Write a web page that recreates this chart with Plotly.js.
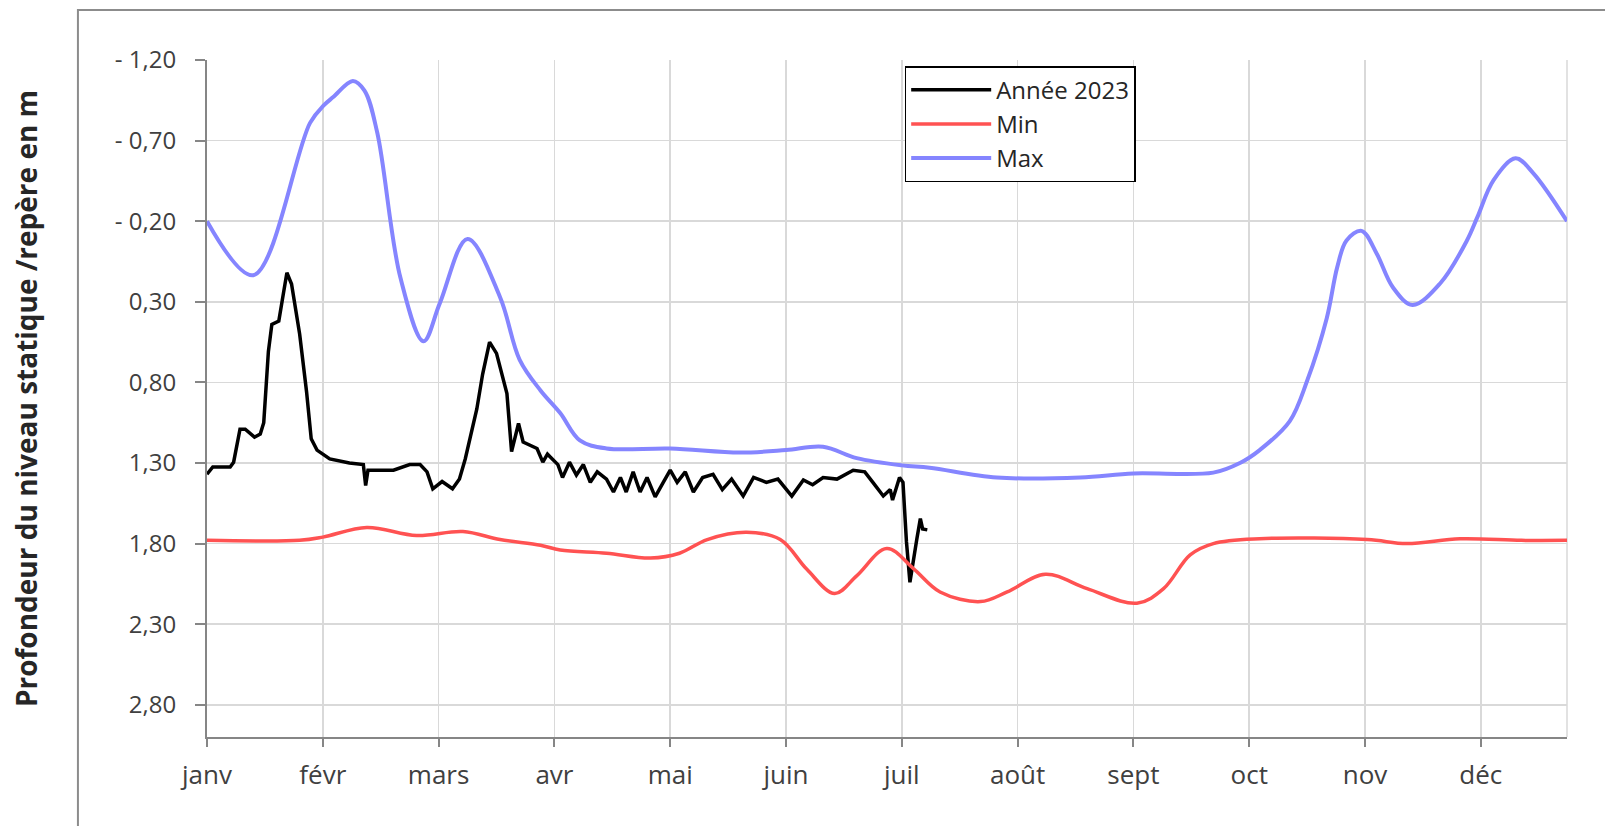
<!DOCTYPE html>
<html>
<head>
<meta charset="utf-8">
<script src="https://cdn.plot.ly/plotly-3.0.1.min.js"></script>
<style>html,body{margin:0;padding:0;background:#fff;}#chart{width:1605px;height:826px;}</style>
</head>
<body>
<div id="chart"></div>
<script>
// x positions are expressed in months from 1 January (0 = janv, 1 = févr, ...)
const monthLabels = ["janv","févr","mars","avr","mai","juin","juil","août","sept","oct","nov","déc"];
const yTickVals = [-1.2,-0.7,-0.2,0.3,0.8,1.3,1.8,2.3,2.8];
const yTickText = ["- 1,20","- 0,70","- 0,20","0,30","0,80","1,30","1,80","2,30","2,80"];

const annee2023X = [0.00,0.05,0.20,0.23,0.285,0.33,0.41,0.46,0.49,0.53,0.56,0.62,0.65,0.69,0.73,0.80,0.86,0.90,0.95,1.06,1.23,1.35,1.37,1.39,1.61,1.75,1.84,1.90,1.95,2.03,2.12,2.18,2.23,2.33,2.38,2.44,2.50,2.59,2.63,2.69,2.73,2.85,2.90,2.94,2.96,3.03,3.07,3.13,3.19,3.25,3.31,3.37,3.45,3.51,3.57,3.62,3.68,3.74,3.80,3.87,3.94,4.00,4.06,4.13,4.20,4.28,4.37,4.45,4.53,4.63,4.72,4.83,4.93,5.05,5.15,5.23,5.32,5.44,5.58,5.68,5.75,5.84,5.90,5.92,5.98,6.01,6.04,6.07,6.13,6.16,6.18,6.22];
const annee2023Y = [1.37,1.325,1.325,1.295,1.09,1.09,1.14,1.12,1.05,0.61,0.44,0.42,0.29,0.12,0.19,0.50,0.86,1.15,1.22,1.275,1.30,1.31,1.44,1.345,1.345,1.31,1.31,1.355,1.46,1.415,1.46,1.40,1.275,0.965,0.75,0.55,0.62,0.87,1.23,1.055,1.17,1.21,1.295,1.245,1.26,1.31,1.39,1.295,1.375,1.31,1.42,1.355,1.40,1.48,1.39,1.48,1.355,1.48,1.39,1.51,1.42,1.345,1.42,1.355,1.48,1.39,1.37,1.465,1.40,1.505,1.39,1.42,1.40,1.505,1.405,1.435,1.39,1.40,1.345,1.355,1.42,1.505,1.465,1.53,1.39,1.42,1.79,2.04,1.77,1.645,1.71,1.715];

const minX = [0,0.80,1.0,1.38,1.81,2.21,2.53,2.88,3.05,3.45,3.83,4.08,4.32,4.66,4.95,5.18,5.42,5.61,5.87,6.10,6.33,6.68,6.91,7.24,7.60,8.03,8.26,8.49,8.69,9.09,10.02,10.36,10.82,11.35,11.744];
const minY = [1.78,1.78,1.76,1.70,1.75,1.725,1.775,1.81,1.84,1.86,1.89,1.86,1.775,1.73,1.775,1.96,2.11,2.00,1.83,1.955,2.10,2.16,2.10,1.99,2.08,2.17,2.08,1.87,1.80,1.77,1.775,1.80,1.77,1.78,1.78];

const maxX = [0,0.40,0.89,1.01,1.09,1.26,1.36,1.47,1.67,1.87,2.01,2.25,2.53,2.70,2.88,3.05,3.22,3.45,4.00,4.60,5.00,5.32,5.61,6.00,6.24,6.82,7.54,8.00,8.69,8.92,9.09,9.35,9.50,9.67,9.76,9.84,9.97,10.10,10.24,10.41,10.65,10.88,10.97,11.11,11.30,11.45,11.744];
const maxY = [-0.20,0.135,-0.81,-0.92,-0.97,-1.07,-1.01,-0.75,0.15,0.545,0.31,-0.09,0.27,0.66,0.85,0.99,1.16,1.21,1.21,1.235,1.22,1.20,1.27,1.315,1.33,1.39,1.39,1.365,1.36,1.30,1.22,1.04,0.79,0.40,0.085,-0.08,-0.14,0.0,0.21,0.32,0.185,-0.08,-0.225,-0.455,-0.59,-0.50,-0.20];

const FONT = "'Open Sans', 'Noto Sans', sans-serif";

const traces = [
  {x: annee2023X, y: annee2023Y, name: "Année 2023", mode: "lines", legendgroup: "a",
   line: {color: "#000000", width: 3.5, shape: "linear"}},
  {x: minX, y: minY, name: "Min", mode: "lines", legendgroup: "b",
   line: {color: "#ff5252", width: 3.5, shape: "spline", smoothing: 1}},
  {x: maxX, y: maxY, name: "Max", mode: "lines", legendgroup: "c",
   line: {color: "#8585ff", width: 4, shape: "spline", smoothing: 1}}
];

const layout = {
  width: 1605, height: 826,
  margin: {l: 207, r: 38, t: 60, b: 89},
  paper_bgcolor: "#ffffff", plot_bgcolor: "#ffffff",
  font: {family: FONT, color: "#404040", size: 24},
  showlegend: true,
  legend: {
    x: 0.513, y: 0.991, xanchor: "left", yanchor: "top",
    bordercolor: "#000000", borderwidth: 1.5, bgcolor: "#ffffff",
    font: {family: FONT, size: 24, color: "#262626"},
    traceorder: "grouped", tracegroupgap: 0, itemwidth: 80
  },
  xaxis: {
    range: [0, 11.744], tickmode: "array",
    tickvals: [0,1,2,3,4,5,6,7,8,9,10,11], ticktext: monthLabels,
    showgrid: true, gridcolor: "#d9d9d9", gridwidth: 1.5,
    showline: true, linecolor: "#868686", linewidth: 2,
    ticks: "outside", ticklen: 8, tickcolor: "#868686", tickwidth: 2,
    ticklabelstandoff: 6,
    zeroline: false, tickfont: {family: FONT, size: 26, color: "#404040"},
    fixedrange: true
  },
  yaxis: {
    range: [3.0, -1.2], tickmode: "array",
    tickvals: yTickVals, ticktext: yTickText,
    showgrid: true, gridcolor: "#d9d9d9", gridwidth: 1.5,
    showline: true, linecolor: "#868686", linewidth: 2,
    ticks: "outside", ticklen: 10, tickcolor: "#868686", tickwidth: 2,
    ticklabelstandoff: 14,
    zeroline: false, tickfont: {family: FONT, size: 24, color: "#404040"},
    automargin: true,
    title: {text: "Profondeur du niveau statique /repère en m", standoff: 69,
            font: {family: FONT, size: 28, color: "#262626", weight: "bold"}},
    fixedrange: true
  },
  shapes: [
    {type: "rect", xref: "paper", yref: "paper", x0: -0.0949, x1: 1.04, y0: -0.15, y1: 1.0739,
     line: {color: "#8c8c8c", width: 2}, fillcolor: "rgba(0,0,0,0)", layer: "below"},
    {type: "line", xref: "paper", yref: "paper", x0: 1, x1: 1, y0: 0, y1: 1,
     line: {color: "#d9d9d9", width: 1.5}, layer: "below"}
  ]
};

Plotly.newPlot("chart", traces, layout, {displayModeBar: false, staticPlot: true});
</script>
</body>
</html>
